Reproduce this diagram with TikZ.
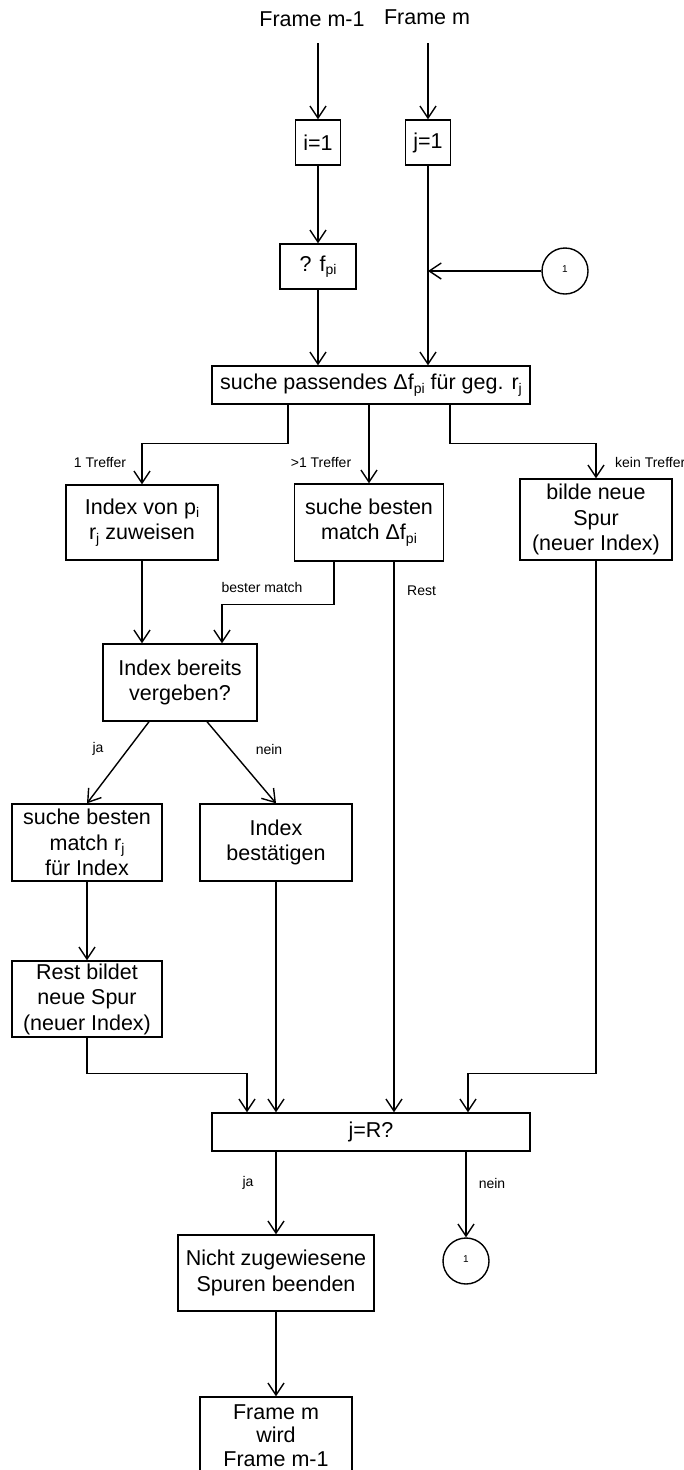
\documentclass[tikz,border=0pt]{standalone}
\usepackage{fontspec}
\setmainfont{Liberation Sans}
\usetikzlibrary{arrows.meta}
\newcommand\lo[1]{\raisebox{-0.3ex}{\fontsize{14}{14}\selectfont #1}}
\begin{document}
\begin{tikzpicture}[x=1pt,y=-1pt,
  box/.style={draw, line width=1.4pt, inner sep=0pt, align=center, font=\fontsize{21.5}{25.5}\selectfont},
  circ/.style={draw, circle, line width=1.4pt, minimum size=46pt, inner sep=0pt, font=\fontsize{10}{10}\selectfont},
  arr/.style={-{Straight Barb[length=12pt,width=16pt]}, line width=1.4pt},
  lbl/.style={font=\fontsize{14}{14}\selectfont, inner sep=0pt},
  ttl/.style={font=\fontsize{21.5}{21.5}\selectfont, inner sep=0pt}]
\useasboundingbox (0,0) rectangle (683,1470);

% titles
\node[ttl] (fm1) at (312,19) {Frame m-1};
\node[ttl] (fm) at (427,17) {Frame m};
\coordinate (s1) at (318,43);
\coordinate (s2) at (428,43);

% boxes
\node[box, minimum width=45pt, minimum height=45pt] (i1) at (318,142.5) {i=1};
\node[box, minimum width=45pt, minimum height=45pt] (j1) at (428,142.5) {j=1};
\node[box, minimum width=76pt, minimum height=45pt] (fpi) at (318,266.5) {? f\lo{pi}};
\node[circ] (c1) at (565,271) {\raisebox{4pt}{1}};
\node[box, minimum width=318pt, minimum height=38pt] (suche) at (371,385) {suche passendes Δf\lo{pi} für geg. r\lo{j}};

\node[box, minimum width=152pt, minimum height=75pt] (idxvon) at (142,522.5) {Index von p\lo{i}\\r\lo{j} zuweisen};
\node[box, minimum width=149pt, minimum height=77pt] (besten) at (369,522.5) {suche besten\\match Δf\lo{pi}};
\node[box, minimum width=152pt, minimum height=81pt] (bilde) at (596,519.5) {bilde neue\\Spur\\(neuer Index)};

\node[box, minimum width=154pt, minimum height=77pt] (bereits) at (180,682.5) {Index bereits\\vergeben?};
\node[box, minimum width=150pt, minimum height=77pt] (sucher) at (87,842.5) {suche besten\\match r\lo{j}\\für Index};
\node[box, minimum width=152pt, minimum height=77pt] (bestaet) at (276,842.5) {Index\\bestätigen};
\node[box, minimum width=150pt, minimum height=76pt] (restbox) at (87,999) {Rest bildet\\neue Spur\\(neuer Index)};

\node[box, minimum width=318pt, minimum height=38pt] (jR) at (371,1132) {j=R?};
\node[box, minimum width=196pt, minimum height=76pt] (nicht) at (276,1273) {Nicht zugewiesene\\Spuren beenden};
\node[circ] (c2) at (466,1261) {\raisebox{4pt}{1}};
\node[box, minimum width=152pt, minimum height=77pt, font=\fontsize{21.5}{23.5}\selectfont] (fbox) at (276,1435.5) {Frame m\\wird\\Frame m-1};

% labels
\node[lbl] (l1) at (100,462) {1 Treffer};
\node[lbl] (l2) at (321,462) {>1 Treffer};
\node[lbl, anchor=west] (l3) at (615,462) {kein Treffer};
\node[lbl] (l4) at (262,587) {bester match};
\node[lbl, anchor=west] (l5) at (407,591) {Rest};
\node[lbl] (l6) at (98,749) {ja};
\node[lbl] (l7) at (269,749) {nein};
\node[lbl] (l8) at (248,1183) {ja};
\node[lbl] (l9) at (492,1183) {nein};

% connectors
\draw[arr] (s1) -- (i1.north);
\draw[arr] (s2) -- (j1.north);
\draw[arr] (i1.south) -- (fpi.north);
\draw[arr] (fpi.south) -- (fpi.south |- suche.north);
\draw[arr] (j1.south) -- (j1.south |- suche.north);
\draw[arr] (c1.west) -- (c1.west -| j1.south);

\draw[arr] ([xshift=-83pt]suche.south) -- ++(0,39) -| (idxvon.north);
\draw[arr] (besten.north |- suche.south) -- (besten.north);
\draw[arr] ([xshift=79pt]suche.south) -- ++(0,39) -| (bilde.north);

\draw[arr] (idxvon.south) -- (idxvon.south |- bereits.north);
\draw[arr] ([xshift=-35pt]besten.south) -- ++(0,43) -| ([xshift=42pt]bereits.north);
\draw[arr] ([xshift=25pt]besten.south) -- ([xshift=25pt]besten.south |- jR.north);

\draw[arr] ([xshift=-31pt]bereits.south) -- (sucher.north);
\draw[arr] ([xshift=27pt]bereits.south) -- (bestaet.north);
\draw[arr] (sucher.south) -- (restbox.north);

\draw[arr] (restbox.south) -- ++(0,36) -| ([xshift=-124pt]jR.north);
\draw[arr] (bestaet.south) -- (bestaet.south |- jR.north);
\draw[arr] (bilde.south) -- ++(0,513) -| ([xshift=97pt]jR.north);

\draw[arr] (nicht.north |- jR.south) -- (nicht.north);
\draw[arr] (c2.north |- jR.south) -- (c2.north);
\draw[arr] (nicht.south) -- (fbox.north);
\end{tikzpicture}
\end{document}
